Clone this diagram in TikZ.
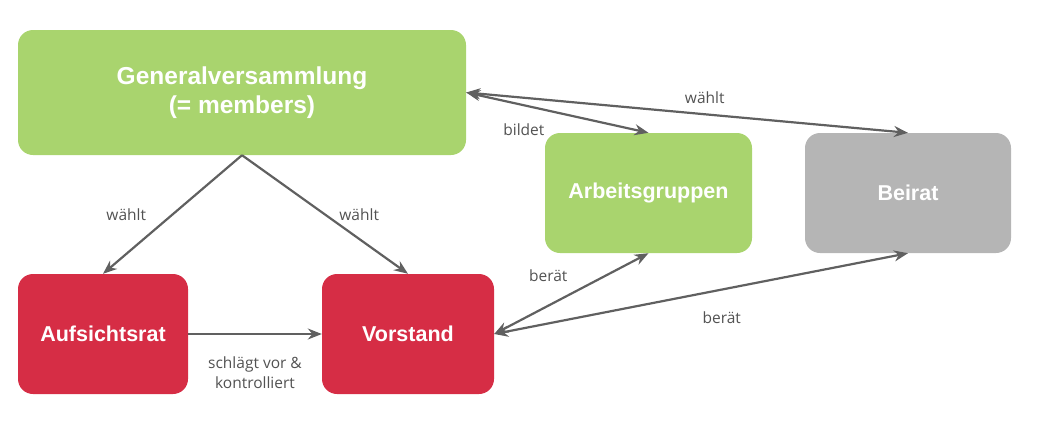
\documentclass[tikz,border=0pt]{standalone}
\usepackage{fontspec}
\setmainfont{Liberation Sans}
\newfontfamily\lblfont{Open Sans}
\usetikzlibrary{arrows.meta}
\definecolor{gvgreen}{RGB}{169,212,110}
\definecolor{boardred}{RGB}{214,45,69}
\definecolor{advgray}{RGB}{181,181,181}
\definecolor{linegray}{RGB}{96,96,96}

\begin{document}
\begin{tikzpicture}[x=1pt,y=-1pt,
  box/.style={rounded corners=15pt,text=white,align=center,font=\bfseries\fontsize{21.5}{26}\selectfont,inner sep=0pt},
  link/.style={-{Stealth[length=14pt,width=11pt]},line width=2.2pt,draw=linegray},
  both/.style={link,{Stealth[length=14pt,width=11pt]}-{Stealth[length=14pt,width=11pt]}},
  lbl/.style={font=\lblfont\fontsize{15.5}{20}\selectfont,text=linegray!85!black,align=center}]
\useasboundingbox (0,0) rectangle (1049,434);
\node[box,fill=gvgreen,minimum width=448pt,minimum height=125pt,font=\bfseries\fontsize{24.5}{29}\selectfont](gv) at (242,92.5){Generalversammlung\\(= members)};
\node[box,fill=gvgreen,minimum width=207pt,minimum height=120pt](ag) at (648.5,193){Arbeitsgruppen};\node[box,fill=advgray,minimum width=206pt,minimum height=120pt](beirat) at (908,193){Beirat};
\node[box,fill=boardred,minimum width=170pt,minimum height=120pt](ar) at (103,334){Aufsichtsrat};\node[box,fill=boardred,minimum width=172pt,minimum height=120pt](vorstand) at (408,334){Vorstand};
\draw[link](gv.south)--node[lbl,midway,left=22]{wählt}(ar.north);
\draw[link](gv.south)--node[lbl,midway,right=10]{wählt}(vorstand.north);
\draw[link](ar.east)--node[lbl,midway,below=18]{schlägt vor \&\\kontrolliert}(vorstand.west);
\draw[both](gv.east)--node[lbl,pos=0.3,below=15,xshift=3]{bildet}(ag.north);
\draw[both](gv.east)--node[lbl,pos=0.54,above=6]{wählt}(beirat.north);
\draw[both](vorstand.east)--node[lbl,pos=0.35,above=20]{berät}(ag.south);
\draw[both](vorstand.east)--node[lbl,pos=0.55,below=18]{berät}(beirat.south);
\end{tikzpicture}
\end{document}
